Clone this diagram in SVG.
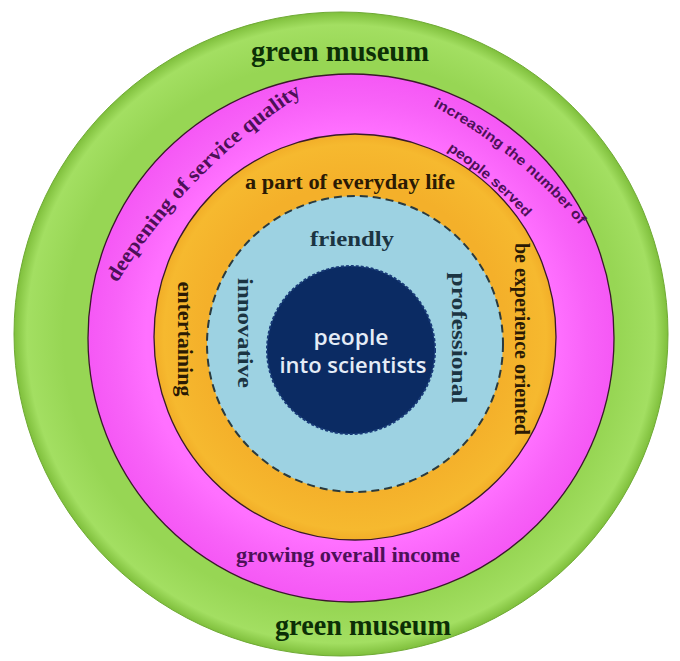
<svg xmlns="http://www.w3.org/2000/svg" width="680" height="661" viewBox="0 0 680 661">
<defs>
<radialGradient id="gGreen" cx="50%" cy="50%" r="50%">
<stop offset="0.85" stop-color="#97d654"/>
<stop offset="0.96" stop-color="#a3df62"/>
<stop offset="1" stop-color="#7fbf3c"/>
</radialGradient>
<radialGradient id="gMag" cx="50%" cy="50%" r="50%">
<stop offset="0.78" stop-color="#ff70ff"/>
<stop offset="0.9" stop-color="#f862f8"/>
<stop offset="1" stop-color="#f558f5"/>
</radialGradient>
<radialGradient id="gOr" cx="50%" cy="50%" r="50%">
<stop offset="0.75" stop-color="#f4b02a"/>
<stop offset="0.95" stop-color="#f6b92f"/>
<stop offset="1" stop-color="#f2ae28"/>
</radialGradient>
<path id="pDeep" d="M 117 283 A 600 600 0 0 1 306 92"/>
<path id="pInc1" d="M 433 106 A 500 500 0 0 1 582 228"/>
<path id="pInc2" d="M 447 150 A 450 450 0 0 1 529 221"/>
</defs>
<style>
.ser{font-family:"Liberation Serif","Times New Roman",serif;font-weight:bold}
.san{font-family:"Liberation Sans",Arial,sans-serif;font-weight:bold}
.ring{stroke:#3a1a2a;stroke-width:1.3}
.gm{fill:#0c2f06;font-size:29px}
.pur{fill:#4d1058}
.brn{fill:#2b1a04;font-size:20px}
.tea{fill:#1b3442;font-size:21px}
.core{font-family:"Open Sans","Noto Sans",sans-serif;font-weight:600;fill:#e4ecf7;font-size:22px}
</style>
<rect width="680" height="661" fill="#ffffff"/>
<g id="green-museum">
<ellipse cx="341" cy="334" rx="327" ry="322" fill="url(#gGreen)" stroke="#6faa35" stroke-width="1"/>
<text class="ser gm" x="340" y="61" text-anchor="middle" textLength="178" lengthAdjust="spacingAndGlyphs">green museum</text>
<text class="ser gm" x="363" y="635" text-anchor="middle" textLength="176" lengthAdjust="spacingAndGlyphs">green museum</text>
</g>
<g id="service-ring">
<ellipse class="ring" cx="351" cy="338" rx="263" ry="264" fill="url(#gMag)"/>
<text class="ser pur" font-size="21"><textPath href="#pDeep" textLength="266" lengthAdjust="spacingAndGlyphs">deepening of service quality</textPath></text>
<text class="san pur" font-size="14"><textPath href="#pInc1" textLength="190" lengthAdjust="spacingAndGlyphs">increasing the number of</textPath></text>
<text class="san pur" font-size="14"><textPath href="#pInc2" textLength="104" lengthAdjust="spacingAndGlyphs">people served</textPath></text>
<text class="ser pur" font-size="20" x="348" y="562" text-anchor="middle" textLength="224" lengthAdjust="spacingAndGlyphs">growing overall income</text>
</g>
<g id="experience-ring">
<ellipse class="ring" cx="355" cy="337" rx="201" ry="203" fill="url(#gOr)"/>
<text class="ser brn" x="350" y="189" text-anchor="middle" textLength="210" lengthAdjust="spacingAndGlyphs">a part of everyday life</text>
<text class="ser brn" transform="translate(178 339) rotate(90)" text-anchor="middle" textLength="115" lengthAdjust="spacingAndGlyphs">entertaining</text>
<text class="ser brn" transform="translate(515 339) rotate(90)" text-anchor="middle" textLength="192" lengthAdjust="spacingAndGlyphs">be experience oriented</text>
</g>
<g id="values-ring">
<ellipse cx="355" cy="344" rx="148" ry="148" fill="#9dd2e2" stroke="#2a3a3e" stroke-width="2" stroke-dasharray="8 5"/>
<text class="ser tea" x="352" y="246" text-anchor="middle" textLength="84" lengthAdjust="spacingAndGlyphs">friendly</text>
<text class="ser tea" transform="translate(238 333) rotate(90)" text-anchor="middle" textLength="110" lengthAdjust="spacingAndGlyphs">innovative</text>
<text class="ser tea" transform="translate(452 338) rotate(90)" text-anchor="middle" textLength="131" lengthAdjust="spacingAndGlyphs">professional</text>
</g>
<g id="core">
<circle cx="351" cy="350" r="84" fill="#0b2b63" stroke="#183a78" stroke-width="2" stroke-dasharray="3 2"/>
<text class="core" x="351" y="345" text-anchor="middle" textLength="75" lengthAdjust="spacingAndGlyphs">people</text>
<text class="core" x="353" y="373" text-anchor="middle" textLength="147" lengthAdjust="spacingAndGlyphs">into scientists</text>
</g>
<g id="connectors"/>
</svg>
